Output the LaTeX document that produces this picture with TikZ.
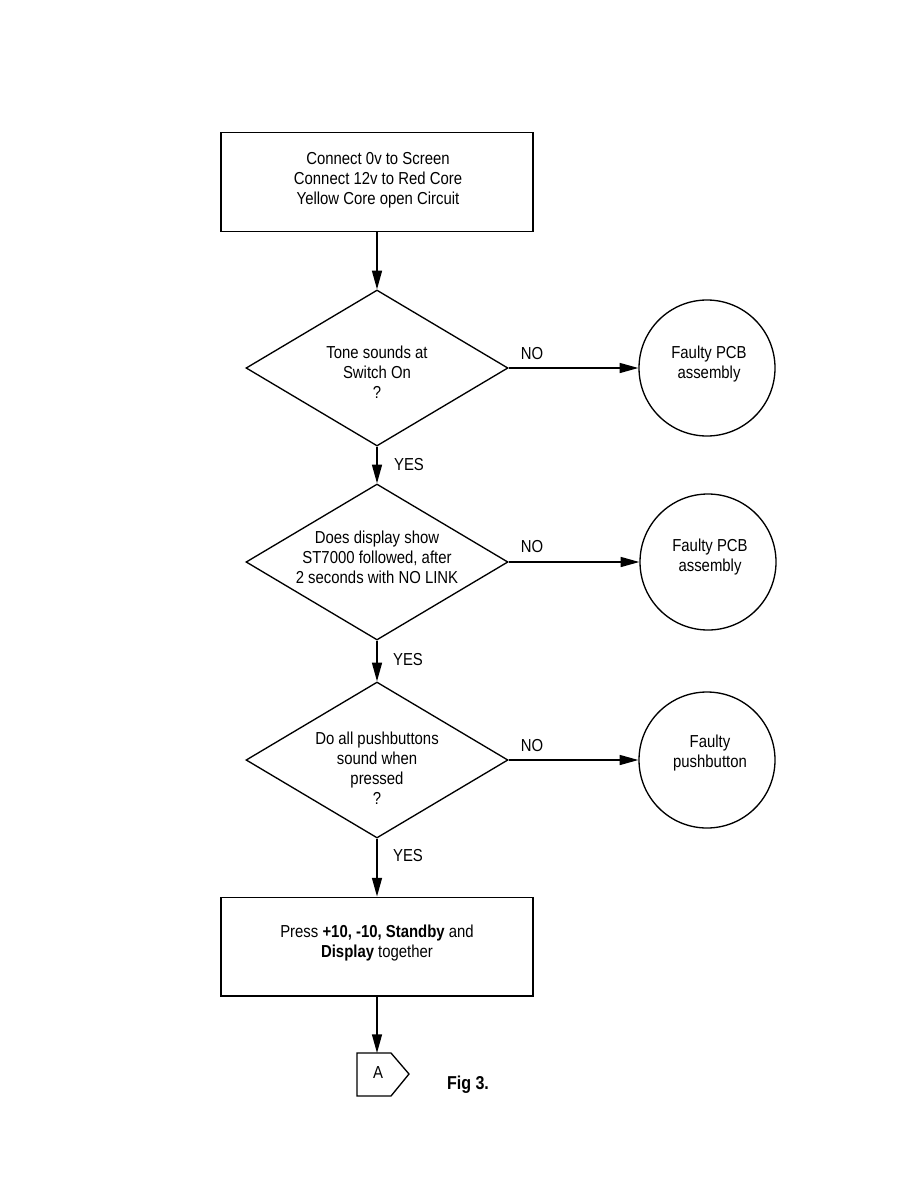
\documentclass[tikz,border=0pt]{standalone}
\usepackage{fontspec}
\setmainfont[FakeStretch=0.86]{Liberation Sans}
\usetikzlibrary{arrows.meta,shapes.geometric}
\begin{document}
\begin{tikzpicture}[x=0.75pt,y=-0.75pt,
  every node/.style={font=\fontsize{13}{15}\selectfont},
  box/.style={draw,line width=1pt,minimum width=234pt,minimum height=74pt,inner sep=0pt},
  dia/.style={draw,line width=1pt,diamond,minimum width=196.5pt,minimum height=117pt,inner sep=0pt},
  term/.style={draw,line width=1pt,circle,minimum size=102pt,inner sep=0pt},
  txt/.style={align=center,inner sep=0pt},
  lbl/.style={inner sep=0pt},
  arr/.style={line width=1pt,-{Triangle[length=14pt,width=7.5pt]}}]
\useasboundingbox (0,0) rectangle (918,1188);
% boxes
\node[box] (b1) at (377,182) {};
\node[txt] at (378,180) {Connect 0v to Screen\\Connect 12v to Red Core\\Yellow Core open Circuit};
\node[box] (b2) at (377,946.5) {};
\node[txt] at (377,943) {Press \textbf{+10, -10, Standby} and\\\textbf{Display} together};
% diamonds
\node[dia] (d1) at (377,368) {};
\node[txt] at (377,372) {Tone sounds at\\Switch On\\?};
\node[dia] (d2) at (377,562) {};
\node[txt] at (377,557) {Does display show\\ST7000 followed, after\\2 seconds with NO LINK};
\node[dia] (d3) at (377,760) {};
\node[txt] at (377,768) {Do all pushbuttons\\sound when\\pressed\\?};
% circles
\node[term] (c1) at (707,368) {};
\node[txt] at (709,364) {Faulty PCB\\assembly};
\node[term] (c2) at (708,562) {};
\node[txt] at (710,557) {Faulty PCB\\assembly};
\node[term] (c3) at (707,760) {};
\node[txt] at (710,753) {Faulty\\pushbutton};
% off-page connector A
\coordinate (pa) at (377,1053);
\draw[line width=1pt] (357,1053) -- (391,1053) -- (409,1074) -- (391,1096) -- (357,1096) -- cycle;
\node[txt] (A) at (378,1073) {A};
\node[txt,font=\fontsize{14}{16}\selectfont\bfseries] (fig) at (468,1085) {Fig 3.};
% connectors
\draw[arr] (b1.south) -- (d1.north);
\draw[arr] (d1.south) -- (d2.north);
\draw[arr] (d2.south) -- (d3.north);
\draw[arr] (d3.south) -- (b2.north);
\draw[arr] (b2.south) -- (pa);
\draw[arr] (d1.east) -- (c1.west);
\draw[arr] (d2.east) -- (c2.west);
\draw[arr] (d3.east) -- (c3.west);
% labels
\node[lbl] at (532,354) {NO};
\node[lbl] at (532,547) {NO};
\node[lbl] at (532,746) {NO};
\node[lbl] at (409,465) {YES};
\node[lbl] at (408,660) {YES};
\node[lbl] at (408,856) {YES};
\end{tikzpicture}
\end{document}
